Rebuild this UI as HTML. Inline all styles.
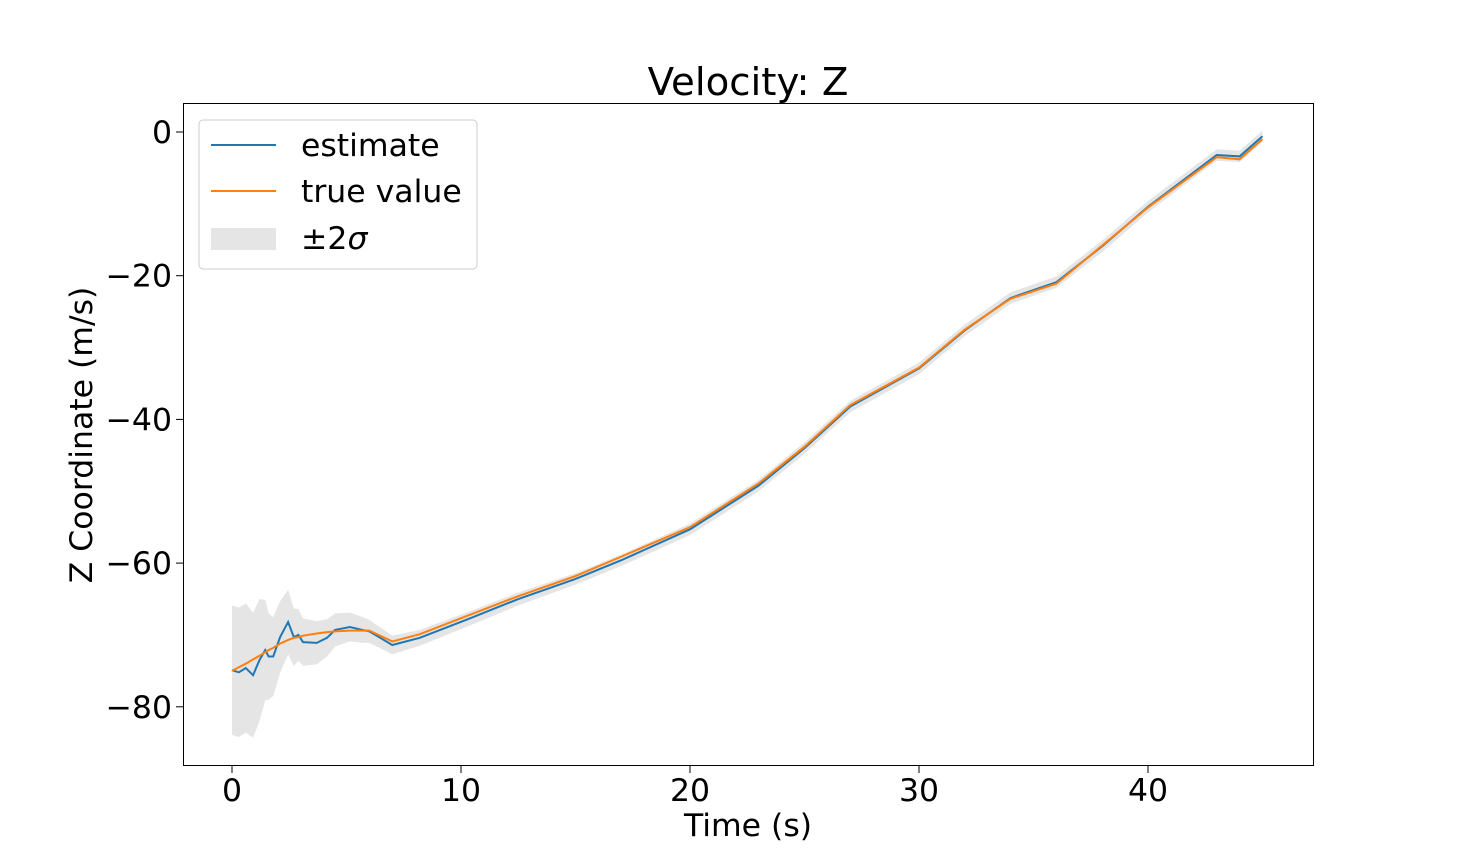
<!DOCTYPE html>
<html><head><meta charset="utf-8"><style>
body{margin:0;background:#fff;}
svg{font-family:"DejaVu Sans","Liberation Sans",sans-serif;}
</style></head><body>
<svg width="1460" height="861" id="c"></svg>
<script>
const times=[0,0.3,0.6,0.92,1.2,1.45,1.6,1.8,2.1,2.45,2.7,2.9,3.1,3.7,4.15,4.5,5.15,5.7,6,7,8.2,10.3,12.5,15,17,20,23,25,27,30,32,34,36,38,40,43,44,45];
const estimate=[-74.9,-75.2,-74.6,-75.6,-73.5,-72.1,-73,-73,-70.3,-68.2,-70.3,-70,-71,-71.1,-70.4,-69.3,-68.9,-69.3,-69.5,-71.4,-70.4,-67.8,-65,-62.2,-59.6,-55.3,-49.2,-44,-38.2,-32.9,-27.6,-23.1,-20.9,-15.9,-10.4,-3.2,-3.4,-0.6];
const truth=[-75,-74.5,-74,-73.4,-72.9,-72.4,-72.1,-71.8,-71.2,-70.7,-70.4,-70.3,-70.1,-69.8,-69.6,-69.5,-69.4,-69.4,-69.4,-70.9,-69.9,-67.3,-64.6,-61.8,-59.1,-55,-48.9,-43.8,-38,-32.8,-27.5,-23.2,-21.1,-15.8,-10.5,-3.5,-3.8,-1];
const band=[9,9,9,8.7,8.5,7,6,5.5,5,4.5,4,3.6,3.3,3,2.6,2.3,2,1.8,1.6,1.3,1.1,1,0.9,0.8,0.8,0.8,0.8,0.8,0.8,0.8,0.8,0.8,0.8,0.8,0.8,0.8,0.8,0.8];
const xTicks=[0,10,20,30,40];
const yTicks=[0,-20,-40,-60,-80];
const NS='http://www.w3.org/2000/svg';
const svg=document.getElementById('c');
const X=t=>232+t*22.9;
const Y=v=>132-v*7.185;
function mk(tag,attrs,parent){const e=document.createElementNS(NS,tag);for(const k in attrs)e.setAttribute(k,attrs[k]);(parent||svg).appendChild(e);return e;}
let d='M'+times.map((t,i)=>X(t)+','+Y(estimate[i]+band[i])).join(' L');
for(let i=times.length-1;i>=0;i--)d+=' L'+X(times[i])+','+Y(estimate[i]-band[i]);
const bandEl=mk('path',{d:d+'Z',fill:'#000','fill-opacity':0.1,stroke:'none'});


const est=mk('polyline',{points:times.map((t,i)=>X(t)+','+Y(estimate[i])).join(' '),fill:'none',stroke:'#1f77b4','stroke-width':2});


const tr=mk('polyline',{points:times.map((t,i)=>X(t)+','+Y(truth[i])).join(' '),fill:'none',stroke:'#ff7f0e','stroke-width':2});


const frame=mk('rect',{x:183.5,y:103.5,width:1130,height:662,fill:'none',stroke:'#000','stroke-width':1});


xTicks.forEach(v=>{
  const l=mk('line',{x1:X(v),x2:X(v),y1:766,y2:773,stroke:'#000'});
  
  
  const t=mk('text',{x:X(v),y:801,'font-size':31.5,'text-anchor':'middle'});t.textContent=v;
  
  
});
yTicks.forEach(v=>{
  const l=mk('line',{x1:176,x2:183,y1:Y(v),y2:Y(v),stroke:'#000'});
  
  
  const t=mk('text',{x:172,y:Y(v)+11,'font-size':31.5,'text-anchor':'end'});t.textContent=v===0?'0':'\u2212'+Math.abs(v);
  
  
});
</script>
<svg style="position:absolute;left:0;top:0" width="1460" height="861">
<text x="748" y="95" font-size="38.7" text-anchor="middle" font-family="DejaVu Sans,sans-serif">Velocity: Z</text>
<text x="748" y="836" font-size="31.5" text-anchor="middle" font-family="DejaVu Sans,sans-serif">Time (s)</text>
<text transform="translate(92,435) rotate(-90)" font-size="31.5" text-anchor="middle" font-family="DejaVu Sans,sans-serif">Z Coordinate (m/s)</text>
<g font-family="DejaVu Sans,sans-serif" font-size="31.5">
<rect x="199" y="120" width="278" height="149" rx="4" fill="#fff" fill-opacity="0.8" stroke="#ccc"/>
<line x1="211" x2="276" y1="145" y2="145" stroke="#1f77b4" stroke-width="2"/>
<text x="301" y="156">estimate</text>
<line x1="211" x2="276" y1="191" y2="191" stroke="#ff7f0e" stroke-width="2"/>
<text x="301" y="202">true value</text>
<rect x="211" y="228" width="65" height="22" fill="#e5e5e5"/>
<text x="301" y="249">±2<tspan font-style="italic">σ</tspan></text>
</g>
</svg>
</body></html>
